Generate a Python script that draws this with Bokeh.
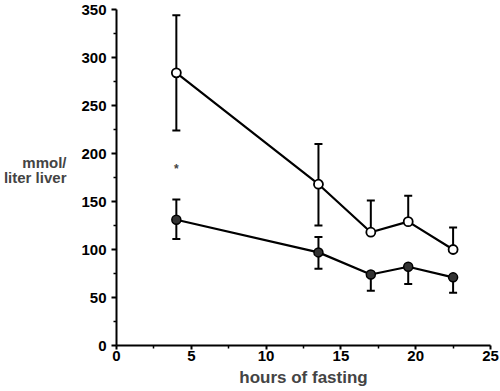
from bokeh.plotting import figure
from bokeh.models import Whisker, ColumnDataSource, Label, Range1d, FixedTicker, TeeHead
from bokeh.embed import file_html
from bokeh.resources import INLINE

# data
hours = [4, 13.5, 17, 19.5, 22.5]
open_mean = [284, 168, 118, 129, 100]
open_upper = [344, 210, 151, 156, 123]
open_lower = [224, 125, None, None, None]
filled_mean = [131, 97, 74, 82, 71]
filled_upper = [152, 113, None, None, None]
filled_lower = [111, 80, 57, 64, 55]
x_ticks = [0, 5, 10, 15, 20, 25]
y_ticks = [0, 50, 100, 150, 200, 250, 300, 350]
star_x, star_y = 4, 184

FONT = "Liberation Sans"

p = figure(width=500, height=391, output_backend="svg", toolbar_location=None,
           x_range=Range1d(0, 25), y_range=Range1d(0, 350),
           min_border_left=116, min_border_right=10, min_border_top=9, min_border_bottom=46)
p.outline_line_color = None
p.xgrid.visible = False
p.ygrid.visible = False
p.background_fill_color = "white"
p.border_fill_color = "white"

for ax in (p.xaxis[0], p.yaxis[0]):
    ax.axis_line_width = 2
    ax.axis_line_color = "black"
    ax.major_tick_line_width = 2
    ax.minor_tick_line_width = 1.5
    ax.major_tick_out = 5
    ax.major_tick_in = 0
    ax.minor_tick_out = 3
    ax.minor_tick_in = 0
    ax.major_label_text_font = FONT
    ax.major_label_text_font_style = "bold"
    ax.major_label_text_font_size = "15px"
    ax.major_label_text_color = "black"

p.xaxis.ticker = FixedTicker(ticks=x_ticks, minor_ticks=[2.5, 7.5, 12.5, 17.5, 22.5])
p.yaxis.ticker = FixedTicker(ticks=y_ticks, minor_ticks=[25, 75, 125, 175, 225, 275, 325])
p.xaxis.major_tick_out = 4
p.xaxis.major_label_standoff = 1
p.yaxis.major_label_standoff = 5
p.xaxis.axis_label = "hours of fasting"
p.xaxis.axis_label_text_font = FONT
p.xaxis.axis_label_text_font_style = "bold"
p.xaxis.axis_label_text_font_size = "17px"
p.xaxis.axis_label_standoff = 4

p.yaxis.axis_label = "mmol/\nliter liver\n"
p.yaxis.axis_label_orientation = "horizontal"
p.yaxis.axis_label_text_font = FONT
p.yaxis.axis_label_text_font_style = "bold"
p.yaxis.axis_label_text_font_size = "15px"
p.yaxis.axis_label_text_align = "center"
p.yaxis.axis_label_text_line_height = 0.87
p.yaxis.axis_label_standoff = 12


def add_whiskers(mean, upper, lower, color):
    up = [(x, m, u) for x, m, u in zip(hours, mean, upper) if u is not None]
    dn = [(x, m, l) for x, m, l in zip(hours, mean, lower) if l is not None]
    if up:
        src = ColumnDataSource(dict(x=[a[0] for a in up], m=[a[1] for a in up], e=[a[2] for a in up]))
        w = Whisker(source=src, base="x", lower="m", upper="e", dimension="height",
                    line_width=2, line_color=color, lower_head=None,
                    upper_head=TeeHead(size=8, line_width=2, line_color=color), level="underlay")
        p.add_layout(w)
    if dn:
        src = ColumnDataSource(dict(x=[a[0] for a in dn], m=[a[1] for a in dn], e=[a[2] for a in dn]))
        w = Whisker(source=src, base="x", lower="e", upper="m", dimension="height",
                    line_width=2, line_color=color, upper_head=None,
                    lower_head=TeeHead(size=8, line_width=2, line_color=color), level="underlay")
        p.add_layout(w)


add_whiskers(open_mean, open_upper, open_lower, "black")
add_whiskers(filled_mean, filled_upper, filled_lower, "black")

p.line(hours, open_mean, line_color="black", line_width=2.2)
p.line(hours, filled_mean, line_color="black", line_width=2.2)
p.scatter(hours, open_mean, size=9, fill_color="white", line_color="black", line_width=1.8)
p.scatter(hours, filled_mean, size=9, fill_color="#333333", line_color="black", line_width=1.5)

p.add_layout(Label(x=star_x, y=star_y, text="*", text_font=FONT, text_font_style="bold",
                   text_font_size="12px", text_align="center", text_baseline="middle"))

open("out.html", "w").write(file_html(p, INLINE))
